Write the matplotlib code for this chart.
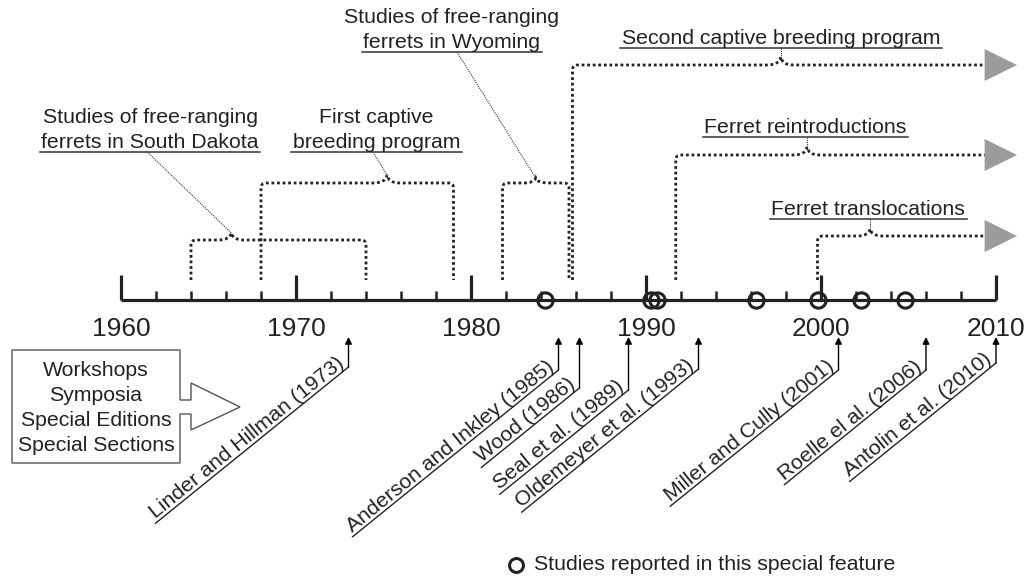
import matplotlib.pyplot as plt
import numpy as np
from matplotlib.path import Path
from matplotlib.patches import PathPatch, Polygon

plt.rcParams['font.family'] = ['Liberation Sans', 'DejaVu Sans']

# --- data -------------------------------------------------------------
decades = [1960, 1970, 1980, 1990, 2000, 2010]
minor_years = [y for y in range(1962, 2010, 2) if y % 10 != 0]

# studies in this special feature (circles on the time line)
study_years = [1984.2, 1990.3, 1990.6, 1996.3, 1999.8, 2002.3, 2004.8]

# program phases (dotted brackets)
phase_labels = ["Studies of free-ranging\nferrets in South Dakota",
                "First captive\nbreeding program",
                "Studies of free-ranging\nferrets in Wyoming",
                "Second captive breeding program",
                "Ferret reintroductions",
                "Ferret translocations"]
phase_start = [1964.0, 1968.0, 1981.8, 1985.8, 1991.7, 1999.8]
phase_end = [1974.0, 1979.0, 1985.6, None, None, None]   # None = still going on
phase_peak = [1966.3, 1975.2, 1983.7, 1997.7, 1999.2, 2002.8]

# workshops / symposia references
refs = ["Linder and Hillman (1973)", "Anderson and Inkley (1985)", "Wood (1986)",
        "Seal et al. (1989)", "Oldemeyer et al. (1993)", "Miller and Cully (2001)",
        "Roelle el al. (2006)", "Antolin et al. (2010)"]
ref_years = [1973, 1985, 1986.2, 1989, 1993, 2001, 2006, 2010]

box_lines = ["Workshops", "Symposia", "Special Editions", "Special Sections"]

# --- layout (pixels from top, 17.5 px per year) ---------------------------
W, H = 1032, 579
PX = 17.5
X0 = 121          # pixel of 1960
AXIS_Y = 300
BASE_Y = 280      # bottom of bracket legs
phase_level = [240, 183, 183, 65, 155, 236]
phase_peak_y = [233, 175, 178, 57, 147, 229]
label_x = [1961.66, 1974.6, 1978.9, 1997.7, 1999.1, 2002.7]
leader_x = [1961.5, 1974.4, 1979.2, 1997.7, 1999.2, 2002.8]
label_uline = [152, 152, 52, 48, 137, 219]
arrow_x0, arrow_x1 = 2009.35, 2011.2
ref_foot = [367, 370, 388, 390, 369, 370, 370, 363]
ref_tip = 337
ANGLE = 39

FS = 15.3
INK = '#222222'


def yr(px):
    return 1960 + (px - X0) / PX


fig = plt.figure(figsize=(W / 100, H / 100), dpi=100)
ax = fig.add_axes([0, 0, 1, 1])
ax.set_xlim(yr(0), yr(W))
ax.set_ylim(H, 0)
ax.axis('off')
renderer = fig.canvas.get_renderer()


def text_px(s, size):
    t = fig.text(0, 0, s, fontsize=size)
    w = t.get_window_extent(renderer=renderer).width
    t.remove()
    return w


# time line
ax.plot([1960, 2010], [AXIS_Y, AXIS_Y], color=INK, lw=2.3, solid_capstyle='butt', zorder=3)
ax.vlines(decades, AXIS_Y - 25, AXIS_Y, color=INK, lw=2.3, zorder=3)
ax.vlines(minor_years, AXIS_Y - 9, AXIS_Y, color=INK, lw=1.8, zorder=3)
for d in decades:
    ax.text(d, 336, str(d), fontsize=19, ha='center', va='baseline', color=INK)

ax.plot(study_years, [AXIS_Y] * len(study_years), 'o', mfc='none', mec=INK,
        ms=11, mew=2.2, zorder=4)

# brackets
r = 5.0
rx = r / PX
w = 13.0 / PX
for i in range(len(phase_labels)):
    x0, x1, xp = phase_start[i], phase_end[i], phase_peak[i]
    yh, yp = phase_level[i], phase_peak_y[i]
    verts = [(x0, BASE_Y), (x0, yh + r), (x0, yh), (x0 + rx, yh),
             (xp - w, yh), (xp - w * 0.1, yh), (xp, yp),
             (xp + w * 0.1, yh), (xp + w, yh)]
    codes = [Path.MOVETO, Path.LINETO, Path.CURVE3, Path.CURVE3,
             Path.LINETO, Path.CURVE3, Path.CURVE3, Path.CURVE3, Path.CURVE3]
    if x1 is not None:
        verts += [(x1 - rx, yh), (x1, yh), (x1, yh + r), (x1, BASE_Y)]
        codes += [Path.LINETO, Path.CURVE3, Path.CURVE3, Path.LINETO]
    else:
        verts += [(arrow_x0, yh)]
        codes += [Path.LINETO]
        ax.add_patch(Polygon([(arrow_x0, yh - 16), (arrow_x0, yh + 16), (arrow_x1, yh)],
                             closed=True, fc='#9b9b9b', ec='none', zorder=2))
    ax.add_patch(PathPatch(Path(verts, codes), fill=False, ec=INK, lw=2.0,
                           ls=(0, (1, 1)), zorder=2))

    # leader from label underline to the peak
    ax.plot([leader_x[i], xp], [label_uline[i], yp], color='#333333', lw=0.8,
            ls=(0, (1, 1)), zorder=2)

    # label with underlined last line
    lines = phase_labels[i].split('\n')
    ub = label_uline[i]
    for k, line in enumerate(reversed(lines)):
        ax.text(label_x[i], ub - 4 - k * 25, line, fontsize=FS, ha='center',
                va='baseline', color=INK)
    lw_px = text_px(lines[-1], FS) + 3
    ax.plot([label_x[i] - lw_px / 2 / PX, label_x[i] + lw_px / 2 / PX], [ub, ub],
            color='#333333', lw=1.1)

# rotated references
th = np.radians(ANGLE)
for s, yv, foot in zip(refs, ref_years, ref_foot):
    ax.annotate('', xy=(yv, ref_tip), xytext=(yv, foot),
                arrowprops=dict(arrowstyle='-|>', color='black', lw=1.0,
                                mutation_scale=10, shrinkA=0, shrinkB=0))
    L = text_px(s, FS) + 4
    ax.plot([yv, yv - L * np.cos(th) / PX], [foot, foot + L * np.sin(th)],
            color=INK, lw=1.0)
    off = 3.5
    tx = yv - 1.5 * np.cos(th) / PX - off * np.sin(th) / PX
    ty = foot + 1.5 * np.sin(th) - off * np.cos(th)
    ax.text(tx, ty, s, fontsize=FS, rotation=ANGLE, rotation_mode='anchor',
            ha='right', va='baseline', color=INK)

# box with block arrow
bx0, bx1, by0, by1 = 12, 180, 350, 463
shape_px = [(bx0, by0), (bx1, by0), (bx1, 400), (191, 400), (191, 383), (240, 407),
            (191, 430), (191, 414), (bx1, 414), (bx1, by1), (bx0, by1)]
ax.add_patch(Polygon([(yr(px), py) for px, py in shape_px], closed=True,
                     fc='white', ec='#555555', lw=1.0, zorder=2))
for k, s in enumerate(box_lines):
    ax.text(yr((bx0 + bx1) / 2), 370 + k * 25.3, s, fontsize=FS, ha='center',
            va='center', color=INK, zorder=3)

# legend
ax.plot(yr(516), 565, 'o', mfc='none', mec=INK, ms=10, mew=2.2)
ax.text(yr(534), 565, "Studies reported in this special feature", fontsize=FS,
        ha='left', va='center', color=INK)

fig.savefig('out.png', dpi=100)
